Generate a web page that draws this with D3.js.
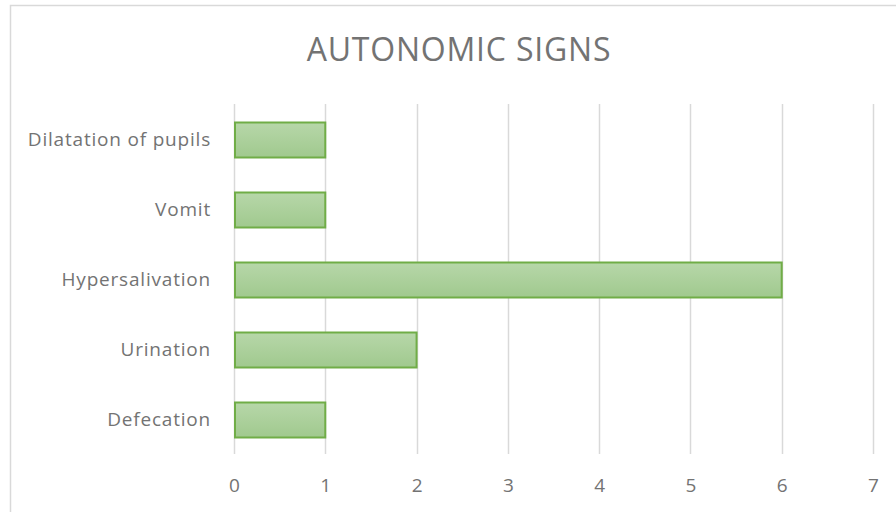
<!DOCTYPE html>
<html>
<head>
<meta charset="utf-8">
<script src="https://cdn.jsdelivr.net/npm/d3@7"></script>
<style>
  html, body { margin: 0; padding: 0; background: #fff; }
  svg { display: block; }
  text { font-family: "Open Sans", sans-serif; fill: #737373; }
</style>
</head>
<body>
<svg id="chart" width="896" height="512"></svg>
<script>
const categories = ["Dilatation of pupils", "Vomit", "Hypersalivation", "Urination", "Defecation"];
const values = [1, 1, 6, 2, 1];
const tickValues = [0, 1, 2, 3, 4, 5, 6, 7];
const title = "AUTONOMIC SIGNS";

const W = 896, H = 512;
const plot = { left: 234, right: 873, top: 104, bottom: 454 };
const FONT = "'Open Sans', sans-serif";
const TEXT = "#737373";

const svg = d3.select("#chart");

// chart frame
svg.append("rect")
  .attr("x", 10.5).attr("y", 5.5)
  .attr("width", W + 10).attr("height", H + 10)
  .attr("fill", "#fff").attr("stroke", "#d9d9d9").attr("stroke-width", 1.5);

const defs = svg.append("defs");
const grad = defs.append("linearGradient")
  .attr("id", "barFill").attr("x1", 0).attr("y1", 0).attr("x2", 0).attr("y2", 1);
grad.append("stop").attr("offset", "0%").attr("stop-color", "#b7d7a9");
grad.append("stop").attr("offset", "100%").attr("stop-color", "#a0c98e");

const x = d3.scaleLinear().domain([0, 7]).range([plot.left, plot.right]);
const y = d3.scaleBand().domain(categories).range([plot.top, plot.bottom]).paddingInner(0.5).paddingOuter(0.25);

// vertical gridlines
svg.append("g")
  .selectAll("line")
  .data(tickValues)
  .join("line")
  .attr("x1", d => Math.round(x(d)) + 0.5)
  .attr("x2", d => Math.round(x(d)) + 0.5)
  .attr("y1", plot.top).attr("y2", plot.bottom)
  .attr("stroke", "#d9d9d9").attr("stroke-width", 1.5);

// bars
svg.append("g")
  .selectAll("rect")
  .data(categories)
  .join("rect")
  .attr("x", x(0) + 1)
  .attr("y", d => y(d) + 1)
  .attr("width", (d, i) => x(values[i]) - x(0) - 1)
  .attr("height", y.bandwidth())
  .attr("fill", "url(#barFill)")
  .attr("stroke", "#70ad47").attr("stroke-width", 2);

// x axis labels
const xAxis = d3.axisBottom(x).tickValues(tickValues).tickSize(0).tickPadding(0).tickFormat(d3.format("d"));
const gx = svg.append("g").attr("transform", `translate(0, ${plot.bottom + 24})`).call(xAxis);
gx.select(".domain").remove();
gx.selectAll("text").attr("font-size", 19).attr("font-family", FONT).attr("fill", TEXT);

// y axis labels
const yAxis = d3.axisLeft(y).tickSize(0).tickPadding(0);
const gy = svg.append("g").attr("transform", `translate(${plot.left - 23}, 1)`).call(yAxis);
gy.select(".domain").remove();
gy.selectAll("text").attr("font-size", 19).attr("letter-spacing", 0.8)
  .attr("font-family", FONT).attr("fill", TEXT);

// title
svg.append("text")
  .attr("x", 459).attr("y", 61)
  .attr("text-anchor", "middle")
  .attr("font-size", 32)
  .attr("letter-spacing", 0.8)
  .attr("fill", TEXT)
  .text(title);
</script>
</body>
</html>
